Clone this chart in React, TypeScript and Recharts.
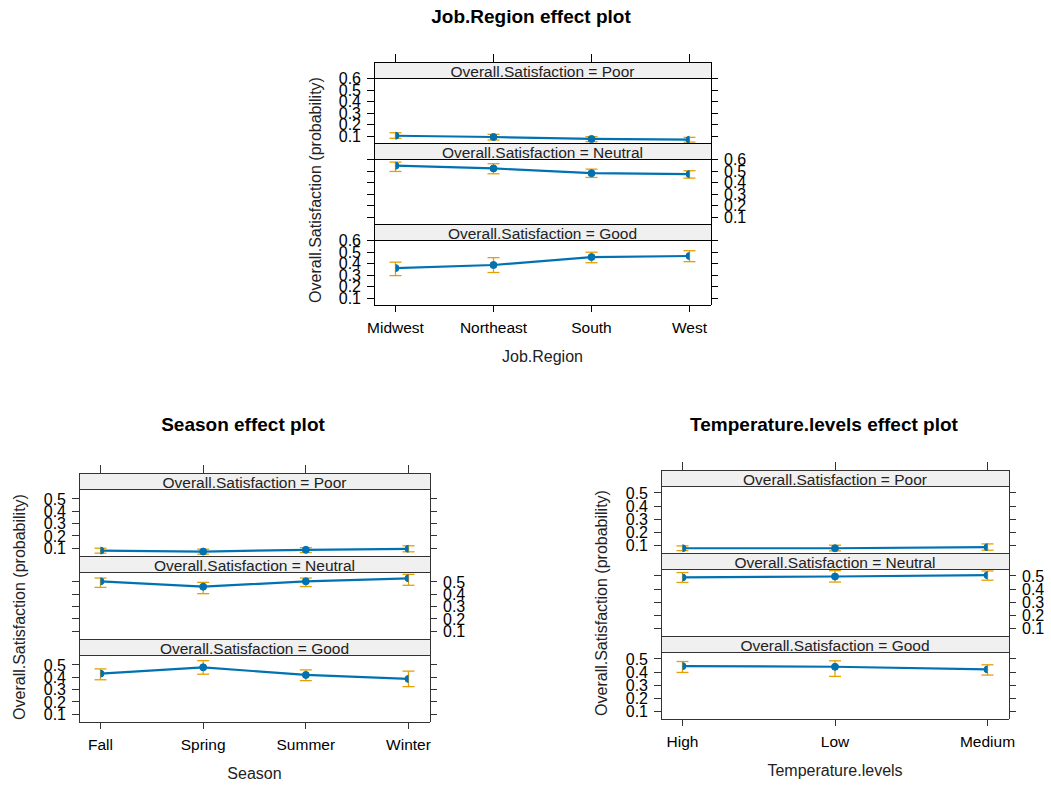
import { LineChart, Line, XAxis, YAxis, ErrorBar } from 'recharts'

// Job.Region effect
const regions = ['Midwest', 'Northeast', 'South', 'West']
const regionPoor = [0.105, 0.094, 0.077, 0.071]
const regionPoorLo = [0.083, 0.068, 0.053, 0.05]
const regionPoorHi = [0.131, 0.117, 0.097, 0.091]
const regionNeutral = [0.548, 0.524, 0.483, 0.475]
const regionNeutralLo = [0.498, 0.478, 0.446, 0.44]
const regionNeutralHi = [0.579, 0.565, 0.518, 0.504]
const regionGood = [0.362, 0.389, 0.458, 0.467]
const regionGoodLo = [0.297, 0.324, 0.409, 0.418]
const regionGoodHi = [0.414, 0.453, 0.5, 0.513]

// Season effect
const seasons = ['Fall', 'Spring', 'Summer', 'Winter']
const seasonPoor = [0.081, 0.073, 0.087, 0.095]
const seasonPoorLo = [0.06, 0.052, 0.065, 0.071]
const seasonPoorHi = [0.1, 0.092, 0.105, 0.12]
const seasonNeutral = [0.505, 0.462, 0.505, 0.53]
const seasonNeutralLo = [0.456, 0.405, 0.463, 0.473]
const seasonNeutralHi = [0.532, 0.497, 0.532, 0.562]
const seasonGood = [0.43, 0.481, 0.419, 0.387]
const seasonGoodLo = [0.38, 0.425, 0.373, 0.324]
const seasonGoodHi = [0.468, 0.535, 0.46, 0.45]

// Temperature.levels effect
const temps = ['High', 'Low', 'Medium']
const tempPoor = [0.08, 0.08, 0.088]
const tempPoorLo = [0.062, 0.06, 0.065]
const tempPoorHi = [0.098, 0.103, 0.113]
const tempNeutral = [0.488, 0.495, 0.505]
const tempNeutralLo = [0.45, 0.453, 0.467]
const tempNeutralHi = [0.525, 0.54, 0.537]
const tempGood = [0.445, 0.44, 0.42]
const tempGoodLo = [0.397, 0.367, 0.377]
const tempGoodHi = [0.48, 0.485, 0.455]

const outcomes = ['Poor', 'Neutral', 'Good']
const ticksTo6 = [0.1, 0.2, 0.3, 0.4, 0.5, 0.6]
const ticksTo5 = [0.1, 0.2, 0.3, 0.4, 0.5]

const FONT = '"Liberation Sans", Arial, Helvetica, sans-serif'
const BLUE = '#0072B2'
const ORANGE = '#E69F00'
const STRIP_BG = '#F0F0F0'
const AXW = 60 // room for y tick labels on each side
const PAD_X = 21.5
const MT = 14 // keeps edge tick labels inside the svg
const X_AXIS_H = 36

type Series = { fit: number[]; lo: number[]; hi: number[] }

interface EffectPlotProps {
  title: string
  titleX: number
  titleY: number
  xTitle: string
  yTitleX: number
  yTitleY: number
  categories: string[]
  series: Series[]
  left: number
  top: number
  width: number
  stripH: number
  panelH: number
  domain: [number, number]
  yTicks: number[]
  frame: string
}

function xAxisCommon(categories: string[]) {
  return {
    type: 'number' as const,
    dataKey: 'i',
    domain: [0, categories.length - 1],
    ticks: categories.map((_, i) => i),
    padding: { left: PAD_X, right: PAD_X },
    allowDataOverflow: true,
    interval: 0 as const,
  }
}

function Panel({
  p,
  k,
}: {
  p: EffectPlotProps
  k: number
}) {
  const { categories, series, width, panelH, frame } = p
  const s = series[k]
  const rows = categories.map((c, i) => ({
    i,
    name: c,
    fit: s.fit[i],
    err: [s.fit[i] - s.lo[i], s.hi[i] - s.fit[i]],
  }))
  const isBottom = k === 2
  const labelsLeft = k !== 1
  const panelTop = p.top + k * (p.stripH + panelH) + p.stripH
  const height = MT + panelH + (isBottom ? X_AXIS_H : MT)
  const lineStyle = { stroke: frame, shapeRendering: 'crispEdges' }
  const tickStyle = { fontSize: 16, fill: '#000', fontFamily: FONT }

  return (
    <div style={{ position: 'absolute', left: p.left - AXW, top: panelTop - MT }}>
      <LineChart
        width={width + 2 * AXW}
        height={height}
        data={rows}
        margin={{ top: MT, right: 0, bottom: isBottom ? 0 : MT, left: 0 }}
      >
        <XAxis
          {...xAxisCommon(categories)}
          hide={!isBottom}
          height={X_AXIS_H}
          tickSize={7}
          tickMargin={10}
          tickFormatter={(v: number) => categories[v]}
          tick={{ fontSize: 15.5, fill: '#000', fontFamily: FONT }}
          axisLine={lineStyle}
          tickLine={lineStyle}
        />
        <YAxis
          yAxisId="l"
          orientation="left"
          width={AXW}
          type="number"
          domain={p.domain}
          ticks={p.yTicks}
          allowDataOverflow
          interval={0}
          tickSize={7}
          tickMargin={6}
          tickFormatter={(v: number) => (labelsLeft ? v.toFixed(1) : '')}
          tick={tickStyle}
          axisLine={lineStyle}
          tickLine={lineStyle}
        />
        <YAxis
          yAxisId="r"
          orientation="right"
          width={AXW}
          type="number"
          domain={p.domain}
          ticks={p.yTicks}
          allowDataOverflow
          interval={0}
          tickSize={7}
          tickMargin={6}
          tickFormatter={(v: number) => (labelsLeft ? '' : v.toFixed(1))}
          tick={tickStyle}
          axisLine={lineStyle}
          tickLine={lineStyle}
        />
        <Line
          yAxisId="l"
          type="linear"
          dataKey="fit"
          stroke={BLUE}
          strokeWidth={2.2}
          dot={{ r: 3.5, fill: BLUE, stroke: BLUE, strokeWidth: 1 }}
          activeDot={false}
          isAnimationActive={false}
        >
          <ErrorBar dataKey="err" width={6} stroke={ORANGE} strokeWidth={1.3} direction="y" isAnimationActive={false} />
        </Line>
      </LineChart>
    </div>
  )
}

// ticks along the top edge of the frame, above the first strip
function TopTicks({ p }: { p: EffectPlotProps }) {
  const rows = p.categories.map((c, i) => ({ i, name: c }))
  return (
    <div style={{ position: 'absolute', left: p.left - AXW, top: p.top - 8 }}>
      <LineChart width={p.width + 2 * AXW} height={9} data={rows} margin={{ top: 0, right: AXW, bottom: 0, left: AXW }}>
        <XAxis
          {...xAxisCommon(p.categories)}
          orientation="top"
          height={8}
          tickSize={8}
          tickMargin={0}
          tickFormatter={() => ''}
          axisLine={false}
          tickLine={{ stroke: p.frame, shapeRendering: 'crispEdges' }}
        />
        <YAxis hide domain={[0, 1]} />
      </LineChart>
    </div>
  )
}

function EffectPlot(p: EffectPlotProps) {
  const { left, top, width, stripH, panelH, frame } = p
  const bottom = top + 3 * (stripH + panelH)
  return (
    <>
      <svg style={{ position: 'absolute', left: 0, top: 0 }} width={1051} height={786}>
        <text x={p.titleX} y={p.titleY} textAnchor="middle" fontFamily={FONT} fontSize={19} fontWeight="bold">
          {p.title}
        </text>
        {outcomes.map((name, k) => {
          const y = top + k * (stripH + panelH)
          return (
            <g key={name}>
              <rect x={left} y={y} width={width} height={stripH} fill={STRIP_BG} stroke={frame} shapeRendering="crispEdges" />
              <text x={left + width / 2} y={y + stripH - 1.3} textAnchor="middle" fontFamily={FONT} fontSize={15.5} fill="#222">
                {`Overall.Satisfaction = ${name}`}
              </text>
            </g>
          )
        })}
        <text x={left + width / 2} y={bottom + 57} textAnchor="middle" fontFamily={FONT} fontSize={16} fill="#222">
          {p.xTitle}
        </text>
        <text
          transform={`translate(${p.yTitleX},${p.yTitleY}) rotate(-90)`}
          textAnchor="middle"
          fontFamily={FONT}
          fontSize={16}
          fill="#222"
        >
          Overall.Satisfaction (probability)
        </text>
      </svg>
      <TopTicks p={p} />
      {outcomes.map((name, k) => (
        <Panel key={name} p={p} k={k} />
      ))}
    </>
  )
}

export default function App() {
  return (
    <div style={{ position: 'absolute', left: 0, top: 0, width: 1051, height: 786, background: '#fff', overflow: 'hidden' }}>
      <EffectPlot
        title="Job.Region effect plot"
        titleX={531}
        titleY={23}
        xTitle="Job.Region"
        yTitleX={321}
        yTitleY={190}
        categories={regions}
        series={[
          { fit: regionPoor, lo: regionPoorLo, hi: regionPoorHi },
          { fit: regionNeutral, lo: regionNeutralLo, hi: regionNeutralHi },
          { fit: regionGood, lo: regionGoodLo, hi: regionGoodHi },
        ]}
        left={374}
        top={62}
        width={337}
        stripH={16}
        panelH={65}
        domain={[0.042, 0.606]}
        yTicks={ticksTo6}
        frame="#000"
      />
      <EffectPlot
        title="Season effect plot"
        titleX={243}
        titleY={431}
        xTitle="Season"
        yTitleX={25}
        yTitleY={607}
        categories={seasons}
        series={[
          { fit: seasonPoor, lo: seasonPoorLo, hi: seasonPoorHi },
          { fit: seasonNeutral, lo: seasonNeutralLo, hi: seasonNeutralHi },
          { fit: seasonGood, lo: seasonGoodLo, hi: seasonGoodHi },
        ]}
        left={79}
        top={473}
        width={351}
        stripH={16}
        panelH={67}
        domain={[0.037, 0.581]}
        yTicks={ticksTo5}
        frame="#333"
      />
      <EffectPlot
        title="Temperature.levels effect plot"
        titleX={824}
        titleY={431}
        xTitle="Temperature.levels"
        yTitleX={607}
        yTitleY={603}
        categories={temps}
        series={[
          { fit: tempPoor, lo: tempPoorLo, hi: tempPoorHi },
          { fit: tempNeutral, lo: tempNeutralLo, hi: tempNeutralHi },
          { fit: tempGood, lo: tempGoodLo, hi: tempGoodHi },
        ]}
        left={661}
        top={470}
        width={348}
        stripH={16}
        panelH={67}
        domain={[0.044, 0.552]}
        yTicks={ticksTo5}
        frame="#333"
      />
    </div>
  )
}
